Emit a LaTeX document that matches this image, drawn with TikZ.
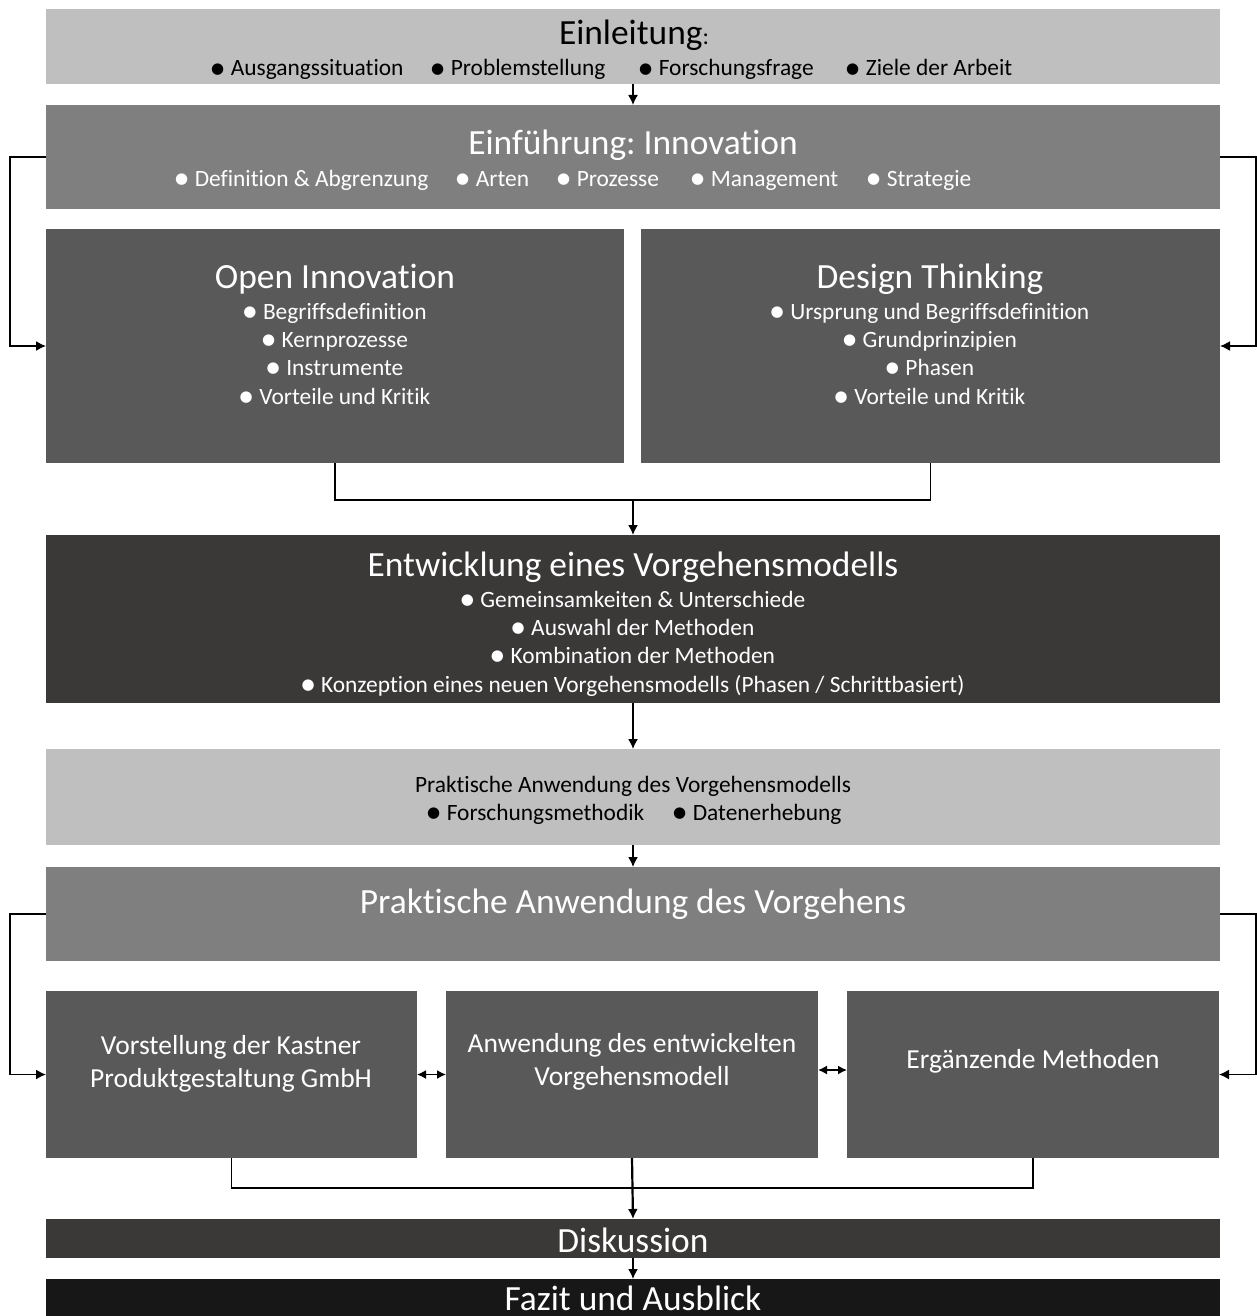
\documentclass[tikz,border=0pt]{standalone}
\usepackage{fontspec}
\setmainfont{Carlito}[Ligatures={NoCommon,NoContextual}]
\newfontfamily\dotfont{DejaVu Sans}
\usetikzlibrary{arrows.meta}
\frenchspacing
\definecolor{greyA}{HTML}{BFBFBF}
\definecolor{greyB}{HTML}{7F7F7F}
\definecolor{greyC}{HTML}{595959}
\definecolor{greyD}{HTML}{3B3838}
\definecolor{greyE}{HTML}{171717}
\newcommand\bul{\raisebox{2.8pt}{\dotfont\fontsize{15}{15}\selectfont ●}\hspace{6.5pt}}
\tikzset{
  box/.style={draw=none, inner sep=0pt, outer sep=0pt, anchor=north west},
  ttl/.style={font=\fontsize{35.4}{40}\selectfont, anchor=base, inner sep=0pt},
  itm/.style={font=\fontsize{23.4}{27}\selectfont, anchor=base, inner sep=0pt},
  lft/.style={itm, anchor=base west},
  btxt/.style={font=\fontsize{27.5}{30}\selectfont, anchor=base, inner sep=0pt, text=white},
  arr/.style={line width=1.5pt, -{Latex[length=10pt,width=10pt]}},
  dbl/.style={line width=1.5pt, {Latex[length=9pt,width=9pt]}-{Latex[length=9pt,width=9pt]}},
  ln/.style={line width=1.5pt},
}
\begin{document}
\begin{tikzpicture}[x=1pt,y=-1pt]
\useasboundingbox (0,0) rectangle (1257,1316);

% boxes
\node[box, fill=greyA, minimum width=1174pt, minimum height=75pt]  (einl) at (46,9) {};
\node[box, fill=greyB, minimum width=1174pt, minimum height=104pt] (einf) at (46,105) {};
\node[box, fill=greyC, minimum width=578pt,  minimum height=234pt] (oi)   at (46,229) {};
\node[box, fill=greyC, minimum width=579pt,  minimum height=234pt] (dt)   at (641,229) {};
\node[box, fill=greyD, minimum width=1174pt, minimum height=168pt] (ent)  at (46,535) {};
\node[box, fill=greyA, minimum width=1174pt, minimum height=96pt]  (pavm) at (46,749) {};
\node[box, fill=greyB, minimum width=1174pt, minimum height=94pt]  (pav)  at (46,867) {};
\node[box, fill=greyC, minimum width=371pt,  minimum height=167pt] (b1)   at (46,991) {};
\node[box, fill=greyC, minimum width=372pt,  minimum height=167pt] (b2)   at (446,991) {};
\node[box, fill=greyC, minimum width=372pt,  minimum height=167pt] (b3)   at (847,991) {};
\node[box, fill=greyD, minimum width=1174pt, minimum height=39pt]  (disk) at (46,1219) {};
\node[box, fill=greyE, minimum width=1174pt, minimum height=45pt]  (fazit) at (46,1279) {};

% Einleitung
\node[ttl] (einlT) at (634,45) {Einleitung{\fontsize{24}{24}\selectfont:}};
\node[lft] (einl1) at (211,76) {\bul Ausgangssituation};
\node[lft] (einl2) at (431,76) {\bul Problemstellung};
\node[lft] (einl3) at (639,76) {\bul Forschungsfrage};
\node[lft] (einl4) at (846,76) {\bul Ziele der Arbeit};

\begin{scope}[every node/.append style={text=white}]
% Einfuehrung
\node[ttl] (einfT) at (633,155) {Einführung: Innovation};
\node[lft] (einf1) at (175,186) {\bul Definition \& Abgrenzung};
\node[lft] (einf2) at (456,186) {\bul Arten};
\node[lft] (einf3) at (557,186) {\bul Prozesse};
\node[lft] (einf4) at (691,186) {\bul Management};
\node[lft] (einf5) at (867,186) {\bul Strategie};

% Open Innovation
\node[ttl] (oiT) at (335,288) {Open Innovation};
\node[itm] (oi1) at (335,319) {\bul Begriffsdefinition};
\node[itm] (oi2) at (335,347) {\bul Kernprozesse};
\node[itm] (oi3) at (335,375) {\bul Instrumente};
\node[itm] (oi4) at (335,404) {\bul Vorteile und Kritik};

% Design Thinking
\node[ttl] (dtT) at (930,288) {Design Thinking};
\node[itm] (dt1) at (930,319) {\bul Ursprung und Begriffsdefinition};
\node[itm] (dt2) at (930,347) {\bul Grundprinzipien};
\node[itm] (dt3) at (930,375) {\bul Phasen};
\node[itm] (dt4) at (930,404) {\bul Vorteile und Kritik};

% Entwicklung
\node[ttl] (entT) at (633,576) {Entwicklung eines Vorgehensmodells};
\node[itm] (ent1) at (633,607) {\bul Gemeinsamkeiten \& Unterschiede};
\node[itm] (ent2) at (633,635) {\bul Auswahl der Methoden};
\node[itm] (ent3) at (633,663) {\bul Kombination der Methoden};
\node[itm] (ent4) at (633,692) {\bul Konzeption eines neuen Vorgehensmodells (Phasen / Schrittbasiert)};

% Praktische Anwendung
\node[ttl] (pavT) at (633,913) {Praktische Anwendung des Vorgehens};
\end{scope}

\node[itm] (pavmT) at (633,792) {Praktische Anwendung des Vorgehensmodells};
\node[lft] (pavm1) at (427,820) {\bul Forschungsmethodik};
\node[lft] (pavm2) at (673,820) {\bul Datenerhebung};

\node[btxt] (b1a) at (231,1054) {Vorstellung der Kastner};
\node[btxt] (b1b) at (231,1087) {Produktgestaltung GmbH};
\node[btxt] (b2a) at (632,1052) {Anwendung des entwickelten};
\node[btxt] (b2b) at (632,1085) {Vorgehensmodell};
\node[btxt] (b3a) at (1033,1068) {Ergänzende Methoden};

\node[ttl, text=white] (diskT) at (633,1252) {Diskussion};
\node[ttl, text=white] (fazitT) at (633,1310) {Fazit und Ausblick};

% connectors
\draw[arr] (einl.south) -- (einf.north);
\draw[arr] (einf.west) -- ++(-36,0) |- (oi.west);
\draw[arr] (einf.east) -- ++(36,0) |- (dt.east);
\coordinate (m1) at (633,500);
\draw[ln] (oi.south) |- (m1) -| (dt.south);
\draw[arr] (m1) -- (ent.north);
\draw[arr] (ent.south) -- (pavm.north);
\draw[arr] (pavm.south) -- (pav.north);
\draw[arr] (pav.west) -- ++(-36,0) |- (b1.west);
\draw[arr] (pav.east) -- ++(36,0) |- (b3.east);
\draw[dbl] (b1.east) -- (b2.west);
\draw[dbl] ([yshift=4.5pt]b2.east) -- ([yshift=4.5pt]b3.west);
\coordinate (m2) at (632,1188);
\draw[ln] (b1.south) |- (m2) -| (b3.south);
\draw[arr, line width=2.2pt] (b2.south) -- (disk.north);
\draw[arr] (disk.south) -- (fazit.north);
\end{tikzpicture}
\end{document}
